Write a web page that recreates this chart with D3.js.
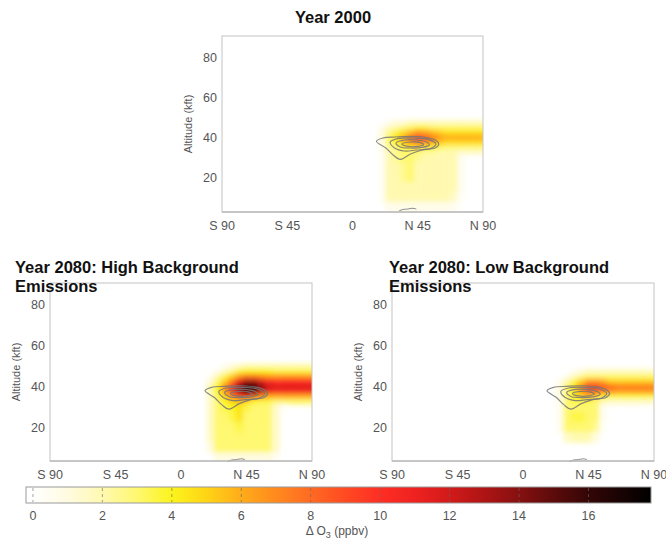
<!DOCTYPE html>
<html>
<head>
<meta charset="utf-8">
<script src="https://cdn.jsdelivr.net/npm/d3@7/dist/d3.min.js"></script>
<style>
  body { margin: 0; background: #fff; }
  svg { display: block; font-family: "Liberation Sans", Arial, sans-serif; }
</style>
</head>
<body>
<svg width="666" height="541"></svg>
<script>
// grid of the ozone change field: columns = latitude (deg N), rows = altitude (kft)
var lats = [15, 20, 25, 30, 35, 40, 45, 50, 55, 60, 65, 70, 75, 80, 85, 90];
var alts = [50, 47.5, 45, 42.5, 40, 37.5, 35, 32.5, 30, 25, 20, 15, 10, 5];

// delta O3 (ppbv), Year 2000
var o3Year2000 = [
  [0, 0, 0, 0, 0, 0, 0, 0, 0, 0, 0, 0, 0, 0, 0, 0],
  [0, 0, 0.5, 1, 1, 1.5, 1.5, 1.5, 1.5, 1.5, 1.5, 1.5, 1.5, 1.5, 1.5, 1.5],
  [0, 0.5, 1.5, 2, 2.5, 3, 3.5, 3.5, 3, 3, 3, 3, 3, 3, 3, 3],
  [0, 1, 2.5, 3.5, 4.5, 5.5, 6.5, 6, 5.5, 5, 4.5, 4.5, 4.5, 4.5, 4.5, 4.5],
  [0, 1, 3, 4.5, 6, 7.5, 9, 8.5, 7.5, 6.5, 6, 6, 6, 6, 6, 6],
  [0, 1, 3, 4, 5.5, 7, 8, 7.5, 6.5, 5.5, 5, 5, 5, 5, 5, 5],
  [0, 0.5, 2.5, 3, 4, 4.5, 5, 4.5, 4, 3.5, 3, 3, 3, 3, 3, 3],
  [0, 0.5, 2, 2.5, 3, 3, 3, 2.5, 2.5, 2, 2, 2, 1.5, 1.5, 1.5, 1.5],
  [0, 0.3, 2, 2.5, 3, 3, 2.5, 2, 2, 2, 2, 2, 0.5, 0, 0, 0],
  [0, 0.3, 2, 2, 2.5, 3, 2, 2, 2, 2, 2, 2, 0.5, 0, 0, 0],
  [0, 0.3, 2, 2, 2.5, 3, 2, 2, 2, 2, 2, 2, 0.5, 0, 0, 0],
  [0, 0.3, 2, 2, 2, 2, 2, 2, 2, 2, 2, 2, 0.5, 0, 0, 0],
  [0, 0.3, 2, 2, 2, 2, 2, 2, 2, 2, 2, 1.5, 0.3, 0, 0, 0],
  [0, 0, 0.7, 0.7, 0.7, 0.7, 0.7, 0.7, 0.7, 0.7, 0.7, 0.5, 0, 0, 0, 0]
];

// delta O3 (ppbv), Year 2080 high background emissions
var o3High = [
  [0, 0, 0, 0.5, 1, 1.5, 2, 2, 2, 2, 2, 2, 2, 2, 2, 2],
  [0, 0, 0.5, 1.5, 2.5, 3.5, 4, 4, 4, 4, 3.5, 3.5, 3.5, 3.5, 3.5, 3.5],
  [0, 0.5, 2, 3.5, 5, 6.5, 7.5, 7.5, 7, 6.5, 6.5, 6.5, 6.5, 6.5, 6.5, 6.5],
  [0, 1, 3, 5, 7.5, 11, 13, 13, 11.5, 10.5, 10, 10, 10, 10, 10, 10],
  [0, 2, 4, 7, 10, 14, 17.5, 17, 14, 12, 11.5, 11.5, 11.5, 11.5, 11.5, 11.5],
  [0, 2, 4, 6.5, 9.5, 13, 16, 15, 12.5, 11, 10.5, 10.5, 10.5, 10.5, 10.5, 10.5],
  [0, 1.5, 3.5, 5, 7, 9, 10, 9, 7, 6, 6, 6, 6, 6, 6, 6],
  [0, 1.5, 3, 4, 5, 5.5, 5, 4, 3.5, 3.5, 3, 3, 3, 3, 3, 3],
  [0, 1.5, 3, 3.5, 4, 4.5, 3.5, 3, 3, 3, 1.5, 0.3, 0, 0, 0, 0],
  [0, 1.5, 3, 3, 3.5, 4.5, 3, 3, 3, 3, 1.5, 0, 0, 0, 0, 0],
  [0, 1.5, 3, 3, 3, 3.5, 3, 3, 3, 3, 1.5, 0, 0, 0, 0, 0],
  [0, 1.5, 3, 3, 3, 3, 3, 3, 3, 3, 1.5, 0, 0, 0, 0, 0],
  [0, 1, 3, 3, 3, 3, 3, 3, 3, 3, 1.5, 0, 0, 0, 0, 0],
  [0, 0, 1, 1, 1, 1, 1, 1, 1, 1, 0.5, 0, 0, 0, 0, 0]
];

// delta O3 (ppbv), Year 2080 low background emissions
var o3Low = [
  [0, 0, 0, 0, 0, 0, 0, 0, 0, 0, 0, 0, 0, 0, 0, 0],
  [0, 0, 0, 0, 0.5, 1, 1.5, 1.5, 1.5, 1.5, 1.5, 1.5, 1.5, 1.5, 1.5, 1.5],
  [0, 0, 0, 0.5, 1.5, 2.5, 3, 3, 3, 3, 3, 3, 3, 3, 3, 3],
  [0, 0, 0.5, 2, 3.5, 5, 6.5, 6.5, 6, 5, 5, 5, 5, 5, 5, 5],
  [0, 0, 1, 3, 4.5, 7, 9.5, 9.5, 8.5, 8, 7.5, 7.5, 7.5, 7.5, 7.5, 7.5],
  [0, 0, 1, 3, 4.5, 6.5, 8.5, 8.5, 7.5, 7, 6.5, 6.5, 6.5, 6.5, 6.5, 6.5],
  [0, 0, 1, 3, 4, 5, 5.5, 5, 4, 3.5, 3.5, 3.5, 3.5, 3.5, 3.5, 3.5],
  [0, 0, 0.5, 3, 3.5, 3.5, 3.5, 3, 2, 1.5, 1.5, 1.5, 1.5, 1.5, 1.5, 1.5],
  [0, 0, 0.5, 3, 3, 3, 3, 3, 0.5, 0, 0, 0, 0, 0, 0, 0],
  [0, 0, 0.5, 3, 3.5, 3.5, 3, 3, 0.5, 0, 0, 0, 0, 0, 0, 0],
  [0, 0, 0.5, 3, 3, 3, 3, 2.5, 0.3, 0, 0, 0, 0, 0, 0, 0],
  [0, 0, 0, 1.5, 2, 2, 2, 1, 0, 0, 0, 0, 0, 0, 0, 0],
  [0, 0, 0, 0, 0, 0, 0, 0, 0, 0, 0, 0, 0, 0, 0, 0],
  [0, 0, 0, 0, 0, 0, 0, 0, 0, 0, 0, 0, 0, 0, 0, 0]
];

// gray contours (aircraft emission density), [lat, alt]
var contourOuter = [[16.5, 37.8], [21, 39.5], [30, 40], [40, 40.3], [50, 39.8], [57, 38.5], [59.5, 36.5], [57, 34.5], [48, 33.5], [40, 31.5], [33, 28.8], [28, 31], [23, 34.5]];
var contourMid = [[26, 37.5], [32, 39.3], [42, 39.5], [52, 38.8], [57.5, 36.5], [54, 34.3], [44, 33.5], [36, 33], [29, 34.5]];
var contourIn = [[30, 37], [36, 38.5], [44, 38.5], [51, 37.5], [53, 36], [48, 34.8], [40, 34.5], [33, 35]];
var contourCore = [[34, 36.5], [40, 37.5], [46, 37.3], [49, 36.2], [45, 35.3], [38, 35.3]];
var groundMark = [[32, 3], [35, 4], [38, 3.8], [41, 4.6], [44, 4]];

var latTicks = [-90, -45, 0, 45, 90];
var latLabels = ["S 90", "S 45", "0", "N 45", "N 90"];
var altTicks = [20, 40, 60, 80];

// colour bar
var cbTicks = [0, 2, 4, 6, 8, 10, 12, 14, 16];
var cbStops = [0, 1, 2, 3, 4, 5, 6, 7, 8, 9, 10, 11, 12, 13, 14, 15, 16, 17.8];
var cbColors = ["#ffffff", "#fffbe0", "#fff9b0", "#fff870", "#fbf41c", "#ffd416", "#ffac1a", "#ff8a1e",
                "#ff6a22", "#ff4a22", "#ff2e24", "#ee2220", "#d21a1a", "#ae1414", "#861010", "#5c0b0b", "#340606", "#000000"];

var svg = d3.select("svg");
var color = d3.scaleLinear().domain(cbStops).range(cbColors).clamp(true);

var defs = svg.append("defs");
defs.append("filter").attr("id", "soft")
    .attr("x", "-20%").attr("y", "-20%").attr("width", "140%").attr("height", "140%")
  .append("feGaussianBlur").attr("stdDeviation", 2.6);

var panels = [
  {id: "p0", title: ["Year 2000"], data: o3Year2000, x0: 222, x1: 483, y0: 36, y1: 212, alt: [2.5, 90.5], tx: 333, ty: 23, anchor: "middle"},
  {id: "p1", title: ["Year 2080: High Background", "Emissions"], data: o3High, x0: 50, x1: 312, y0: 283, y1: 461, alt: [3.3, 90.8], tx: 15, ty: 273, anchor: "start"},
  {id: "p2", title: ["Year 2080: Low Background", "Emissions"], data: o3Low, x0: 392, x1: 654, y0: 283, y1: 461, alt: [3.3, 90.8], tx: 389, ty: 273, anchor: "start"}
];

var latStep = lats[1] - lats[0];
// cell edges in altitude: halfway between neighbouring rows
function altTop(i) { return i == 0 ? alts[0] + (alts[0] - alts[1]) / 2 : (alts[i - 1] + alts[i]) / 2; }
function altBot(i) { var n = alts.length; return i == n - 1 ? alts[n - 1] - (alts[n - 2] - alts[n - 1]) / 2 : (alts[i] + alts[i + 1]) / 2; }

panels.forEach(function(p) {
  var x = d3.scaleLinear().domain([-90, 90]).range([p.x0, p.x1]);
  var y = d3.scaleLinear().domain(p.alt).range([p.y1, p.y0]);
  var g = svg.append("g");

  defs.append("clipPath").attr("id", "clip-" + p.id)
    .append("rect").attr("x", p.x0).attr("y", p.y0)
    .attr("width", p.x1 - p.x0).attr("height", p.y1 - p.y0);

  // field cells, softened
  var cells = [];
  p.data.forEach(function(row, i) {
    row.forEach(function(v, j) {
      if (v > 0) cells.push({lat: lats[j], top: altTop(i), bot: altBot(i), v: v, last: j == lats.length - 1});
    });
  });
  g.append("g").attr("clip-path", "url(#clip-" + p.id + ")")
    .append("g").attr("filter", "url(#soft)")
    .selectAll("rect").data(cells).enter().append("rect")
      .attr("x", function(d) { return x(d.lat - latStep / 2); })
      .attr("width", function(d) { return x(d.lat + (d.last ? 3 : 0.5) * latStep) - x(d.lat - latStep / 2) + 0.5; })
      .attr("y", function(d) { return y(d.top); })
      .attr("height", function(d) { return y(d.bot) - y(d.top) + 0.5; })
      .attr("fill", function(d) { return color(d.v); });

  // contours
  var line = d3.line().x(function(d) { return x(d[0]); }).y(function(d) { return y(d[1]); })
    .curve(d3.curveCatmullRomClosed);
  [contourOuter, contourMid, contourIn, contourCore].forEach(function(c) {
    g.append("path").attr("d", line(c)).attr("fill", "none")
      .attr("stroke", "#777").attr("stroke-width", 1.2).attr("opacity", 0.85);
  });
  g.append("path")
    .attr("d", d3.line().x(function(d) { return x(d[0]); }).y(function(d) { return y(d[1]); })
      .curve(d3.curveBasis)(groundMark))
    .attr("fill", "none").attr("stroke", "#8a8a8a").attr("stroke-width", 1);

  // frame
  g.append("rect").attr("x", p.x0).attr("y", p.y0)
    .attr("width", p.x1 - p.x0).attr("height", p.y1 - p.y0)
    .attr("fill", "none").attr("stroke", "#c4c4c4").attr("stroke-width", 1);
  g.append("line").attr("x1", p.x0).attr("x2", p.x1).attr("y1", p.y1).attr("y2", p.y1)
    .attr("stroke", "#aaa");

  // axes labels
  g.selectAll(".xt").data(latTicks).enter().append("text")
    .attr("x", function(d) { return x(d); }).attr("y", p.y1 + 18)
    .attr("text-anchor", "middle").attr("font-size", 12.5).attr("fill", "#555")
    .text(function(d, i) { return latLabels[i]; });
  g.selectAll(".yt").data(altTicks).enter().append("text")
    .attr("x", p.x0 - 5).attr("y", function(d) { return y(d) + 4.5; })
    .attr("text-anchor", "end").attr("font-size", 12.5).attr("fill", "#555")
    .text(function(d) { return d; });
  g.append("text")
    .attr("transform", "translate(" + (p.x0 - 30) + "," + ((p.y0 + p.y1) / 2) + ") rotate(-90)")
    .attr("text-anchor", "middle").attr("font-size", 11).attr("fill", "#555")
    .text("Altitude (kft)");

  // title
  var t = g.append("text").attr("x", p.tx).attr("y", p.ty)
    .attr("text-anchor", p.anchor).attr("font-size", 16.5).attr("font-weight", "bold").attr("fill", "#111");
  p.title.forEach(function(s, i) {
    t.append("tspan").attr("x", p.tx).attr("dy", i ? 18.5 : 0).text(s);
  });
});

// colour bar
var cbX = d3.scaleLinear().domain([-0.2, 17.8]).range([26, 651]);
var grad = defs.append("linearGradient").attr("id", "cb");
grad.append("stop").attr("offset", 0).attr("stop-color", "#ffffff");
cbStops.forEach(function(v, i) {
  grad.append("stop").attr("offset", (cbX(v) - cbX.range()[0]) / (cbX.range()[1] - cbX.range()[0]))
    .attr("stop-color", cbColors[i]);
});
var cb = svg.append("g");
cb.append("rect").attr("x", cbX(-0.2)).attr("y", 487).attr("width", cbX(17.8) - cbX(-0.2)).attr("height", 16)
  .attr("fill", "url(#cb)").attr("stroke", "#999").attr("stroke-width", 1);
cb.selectAll(".tk").data(cbTicks).enter().append("line")
  .attr("x1", function(d) { return cbX(d); }).attr("x2", function(d) { return cbX(d); })
  .attr("y1", 488).attr("y2", 502)
  .attr("stroke", "#666").attr("stroke-dasharray", "3,3").attr("opacity", 0.6);
cb.selectAll(".tl").data(cbTicks).enter().append("text")
  .attr("x", function(d) { return cbX(d); }).attr("y", 520)
  .attr("text-anchor", "middle").attr("font-size", 12.5).attr("fill", "#555")
  .text(function(d) { return d; });
var lab = cb.append("text").attr("x", 337).attr("y", 535).attr("text-anchor", "middle")
  .attr("font-size", 12).attr("fill", "#555");
lab.append("tspan").text("\u0394 O");
lab.append("tspan").attr("font-size", 9).attr("dy", 3).text("3");
lab.append("tspan").attr("dy", -3).text(" (ppbv)");
</script>
</body>
</html>
